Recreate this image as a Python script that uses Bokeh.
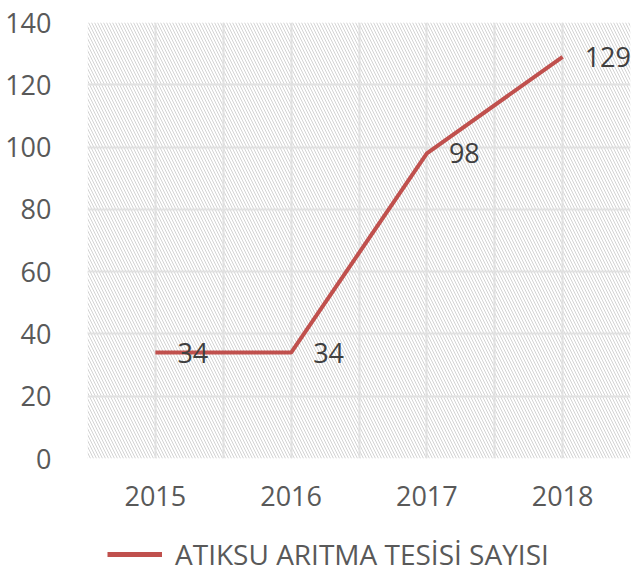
import numpy as np
from bokeh.plotting import figure
from bokeh.layouts import column
from bokeh.models import (ColumnDataSource, FixedTicker, Range1d, LabelSet,
                          Legend, LegendItem, BoxAnnotation)
from bokeh.core.properties import value
from bokeh.embed import file_html
from bokeh.resources import INLINE

# ---- data ----
years = ["2015", "2016", "2017", "2018"]
counts = [34, 34, 98, 129]
y_ticks = [0, 20, 40, 60, 80, 100, 120, 140]
series_name = "ATIKSU ARITMA TESİSİ SAYISI"

FONT = "Open Sans"
LINE_COLOR = "#C0504D"
x_pos = [i + 0.5 for i in range(len(years))]
src = ColumnDataSource(dict(x=x_pos, y=counts, label=[str(c) for c in counts]))

p = figure(width=633, height=532, x_range=Range1d(0, len(years)),
           y_range=Range1d(y_ticks[0], y_ticks[-1]),
           output_backend="svg", toolbar_location=None,
           min_border_left=87, min_border_right=3, min_border_top=22,
           min_border_bottom=74)
p.outline_line_color = None
p.background_fill_color = "white"

# hatched plot area
p.add_layout(BoxAnnotation(fill_alpha=0, line_color=None, hatch_pattern="\\",
                           hatch_color="#d3d3d3", hatch_scale=6, hatch_weight=1,
                           level="image"))

# grids
p.xgrid.ticker = FixedTicker(ticks=[i * 0.5 for i in range(2 * len(years) + 1)])
p.ygrid.ticker = FixedTicker(ticks=y_ticks)
for g in (p.xgrid[0], p.ygrid[0]):
    g.grid_line_color = "#e1e1e1"
    g.grid_line_width = 2

# axes
p.xaxis.ticker = FixedTicker(ticks=x_pos)
p.xaxis.major_label_overrides = {x: y for x, y in zip(x_pos, years)}
p.yaxis.ticker = FixedTicker(ticks=y_ticks)
for ax in (p.xaxis[0], p.yaxis[0]):
    ax.axis_line_color = None
    ax.major_tick_line_color = None
    ax.minor_tick_line_color = None
    ax.major_label_text_font = FONT
    ax.major_label_text_font_size = "27px"
    ax.major_label_text_color = "#595959"
p.yaxis.major_label_standoff = 30
p.xaxis.major_label_standoff = 21

r = p.line("x", "y", source=src, line_color=LINE_COLOR, line_width=4)

labels = LabelSet(x="x", y="y", text="label", source=src, x_offset=22,
                  text_baseline="middle", text_align="left",
                  text_font=value(FONT), text_font_size="27px", text_color="#404040")
p.add_layout(labels)

# legend strip below the chart
lg = figure(width=633, height=41, x_range=Range1d(0, 1), y_range=Range1d(0, 1),
            output_backend="svg", toolbar_location=None, min_border=0)
lg.axis.visible = False
lg.grid.visible = False
lg.outline_line_color = None
r2 = lg.line(x=[np.nan], y=[np.nan], line_color=LINE_COLOR, line_width=5)
legend = Legend(items=[LegendItem(label=series_name, renderers=[r2])],
                orientation="horizontal", location=(20, 0),
                label_text_font=FONT, label_text_font_size="28px",
                label_text_color="#595959", glyph_width=55, label_standoff=13,
                border_line_color=None, background_fill_alpha=0,
                padding=0, margin=0, spacing=0)
lg.add_layout(legend, "center")

open("out.html", "w").write(file_html(column(p, lg, spacing=0), INLINE))
